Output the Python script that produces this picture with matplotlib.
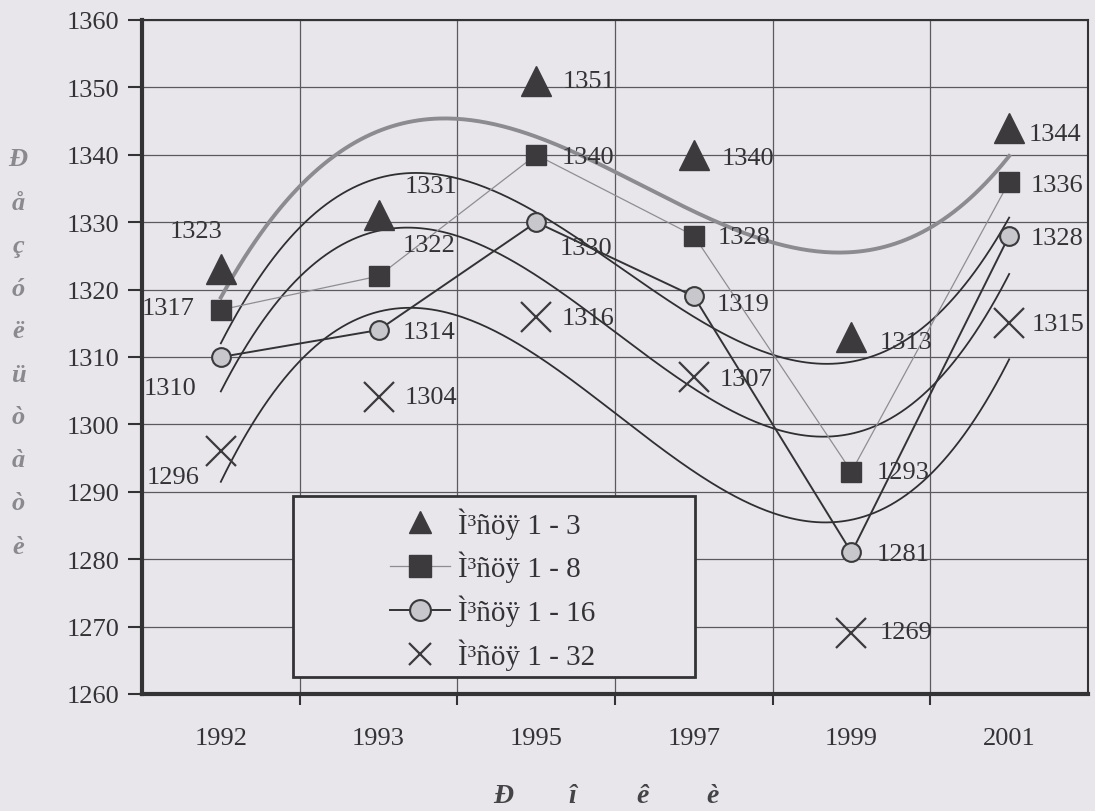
import numpy as np
import matplotlib
matplotlib.use("Agg")
import matplotlib.pyplot as plt
from matplotlib.lines import Line2D
from matplotlib.patches import Rectangle

years = ["1992", "1993", "1995", "1997", "1999", "2001"]
s_1_3 = [1323, 1331, 1351, 1340, 1313, 1344]
s_1_8 = [1317, 1322, 1340, 1328, 1293, 1336]
s_1_16 = [1310, 1314, 1330, 1319, 1281, 1328]
s_1_32 = [1296, 1304, 1316, 1307, 1269, 1315]
legend_labels = ["Ì³ñöÿ 1 - 3", "Ì³ñöÿ 1 - 8", "Ì³ñöÿ 1 - 16", "Ì³ñöÿ 1 - 32"]
y_title = list("Ðåçóëüòàòè")
x_title = list("Ðîêè")

BG = "#e8e6eb"
DARK = "#333335"
MARK = "#3c3a3d"
FONT = "Liberation Serif"
FS = 19
LFS = 21

plt.rcParams["font.family"] = [FONT, "DejaVu Serif"]

W, H = 1095, 812
fig = plt.figure(figsize=(W / 100, H / 100), dpi=100, facecolor=BG)
L, R, T, B = 142, 1088, 21, 695
ax = fig.add_axes([L / W, 1 - B / H, (R - L) / W, (B - T) / H], facecolor=BG)

x = np.arange(1, len(years) + 1)

# axes, ticks and gridlines
ax.set_xlim(0.5, len(years) + 0.5)
ax.set_ylim(1260, 1360)
ax.set_yticks(np.arange(1260, 1361, 10))
ax.set_xticks(np.arange(1.5, len(years), 1.0))
ax.set_xticklabels([])
ax.set_xticks(x, minor=True)
ax.set_xticklabels(years, minor=True)
ax.grid(True, which="major", color="#5a5a5e", linewidth=0.9, zorder=0)
ax.tick_params(axis="x", which="minor", length=0, pad=24, labelsize=FS, labelcolor=DARK)
ax.tick_params(axis="x", which="major", direction="out", length=8, width=1.5, color=DARK)
ax.tick_params(axis="y", direction="out", length=10, width=1.5, color=DARK, pad=6,
               labelsize=FS, labelcolor=DARK)
for side, lw in [("left", 3), ("bottom", 3), ("top", 1.5), ("right", 1.5)]:
    ax.spines[side].set_linewidth(lw)
    ax.spines[side].set_color(DARK)

# trendlines (cubic polynomial fits, as in the original spreadsheet chart)
xf = np.linspace(1, len(years), 300)
for ys, col, lw in [(s_1_3, "#8c8b8f", 2.8), (s_1_8, "#2f2f31", 1.3),
                    (s_1_16, "#2f2f31", 1.3), (s_1_32, "#2f2f31", 1.3)]:
    c = np.polyfit(x, ys, 3)
    ax.plot(xf, np.polyval(c, xf), color=col, linewidth=lw, zorder=2)

# series
ax.plot(x, s_1_8, color="#8e8e92", linewidth=0.9, zorder=3)
ax.plot(x, s_1_16, color="#333335", linewidth=1.4, zorder=3)
ax.plot(x, s_1_3, linestyle="none", marker="^", markersize=22, color=MARK, zorder=4)
ax.plot(x, s_1_8, linestyle="none", marker="s", markersize=15, color=MARK, zorder=4)
ax.plot(x, s_1_16, linestyle="none", marker="o", markersize=13.5, markerfacecolor="#c8c8cc",
        markeredgecolor="#3a3a3c", markeredgewidth=1.5, zorder=4)
ax.plot(x, s_1_32, linestyle="none", marker="x", markersize=21, color=MARK,
        markeredgewidth=1.6, zorder=4)

# data labels: offsets in pixels (dx, dy) and horizontal alignment
def px(v):
    return v * 0.72

def lab(xi, yi, dx, dy, ha="left"):
    ax.annotate(str(yi), (xi, yi), xytext=(px(dx), px(dy)), textcoords="offset points",
                ha=ha, va="center", fontsize=FS, color=DARK, zorder=6)

tri_off = [(2, 38, "right"), (26, 29, "left"), (27, 0, "left"), (28, -3, "left"),
           (28, -5, "left"), (20, -6, "left")]
sq_off = [(-26, 2, "right"), (24, 31, "left"), (26, -2, "left"), (24, -1, "left"),
          (25, 0, "left"), (22, -3, "left")]
ci_off = [(-24, -31, "right"), (24, -2, "left"), (24, -26, "left"), (23, -8, "left"),
          (25, -2, "left"), (22, -2, "left")]
x_off = [(-21, -26, "right"), (26, 0, "left"), (26, -1, "left"), (26, -2, "left"),
         (28, 1, "left"), (23, -1, "left")]
for ys, offs in [(s_1_3, tri_off), (s_1_8, sq_off), (s_1_16, ci_off), (s_1_32, x_off)]:
    for xi, yi, (dx, dy, ha) in zip(x, ys, offs):
        lab(xi, yi, dx, dy, ha)

# legend
handles = [
    Line2D([], [], linestyle="none", marker="^", markersize=16, color=MARK),
    Line2D([], [], color="#8e8e92", linewidth=0.9, marker="s", markersize=16, markerfacecolor=MARK,
           markeredgecolor=MARK),
    Line2D([], [], color="#333335", linewidth=1.4, marker="o", markersize=15,
           markerfacecolor="#c8c8cc", markeredgecolor="#3a3a3c", markeredgewidth=1.5),
    Line2D([], [], linestyle="none", marker="x", markersize=16, color=MARK, markeredgewidth=1.6),
]
fig.legend(handles, legend_labels, loc="upper left",
           bbox_to_anchor=(390 / W, 1 - 508 / H), frameon=False, fontsize=LFS,
           handlelength=2.05, handletextpad=0.27, labelspacing=0.42, borderpad=0,
           borderaxespad=0, labelcolor=DARK)
fig.patches.append(Rectangle((293 / W, 1 - 678 / H), (695 - 293) / W, (678 - 497) / H,
                             transform=fig.transFigure, facecolor=BG, edgecolor=DARK,
                             linewidth=2, zorder=5))

# axis titles (vertical letters on the left, spaced letters below)
for i, ch in enumerate(y_title):
    fig.text(18 / W, 1 - (160 + 43 * i) / H, ch, ha="center", va="center", fontsize=19,
             fontweight="bold", fontstyle="italic", color="#8a898e")
for i, ch in enumerate(x_title):
    fig.text((503 + 70 * i) / W, 1 - 797 / H, ch, ha="center", va="center", fontsize=20,
             fontweight="bold", fontstyle="italic", color="#444446")

fig.savefig("out.png", dpi=100, facecolor=BG)
